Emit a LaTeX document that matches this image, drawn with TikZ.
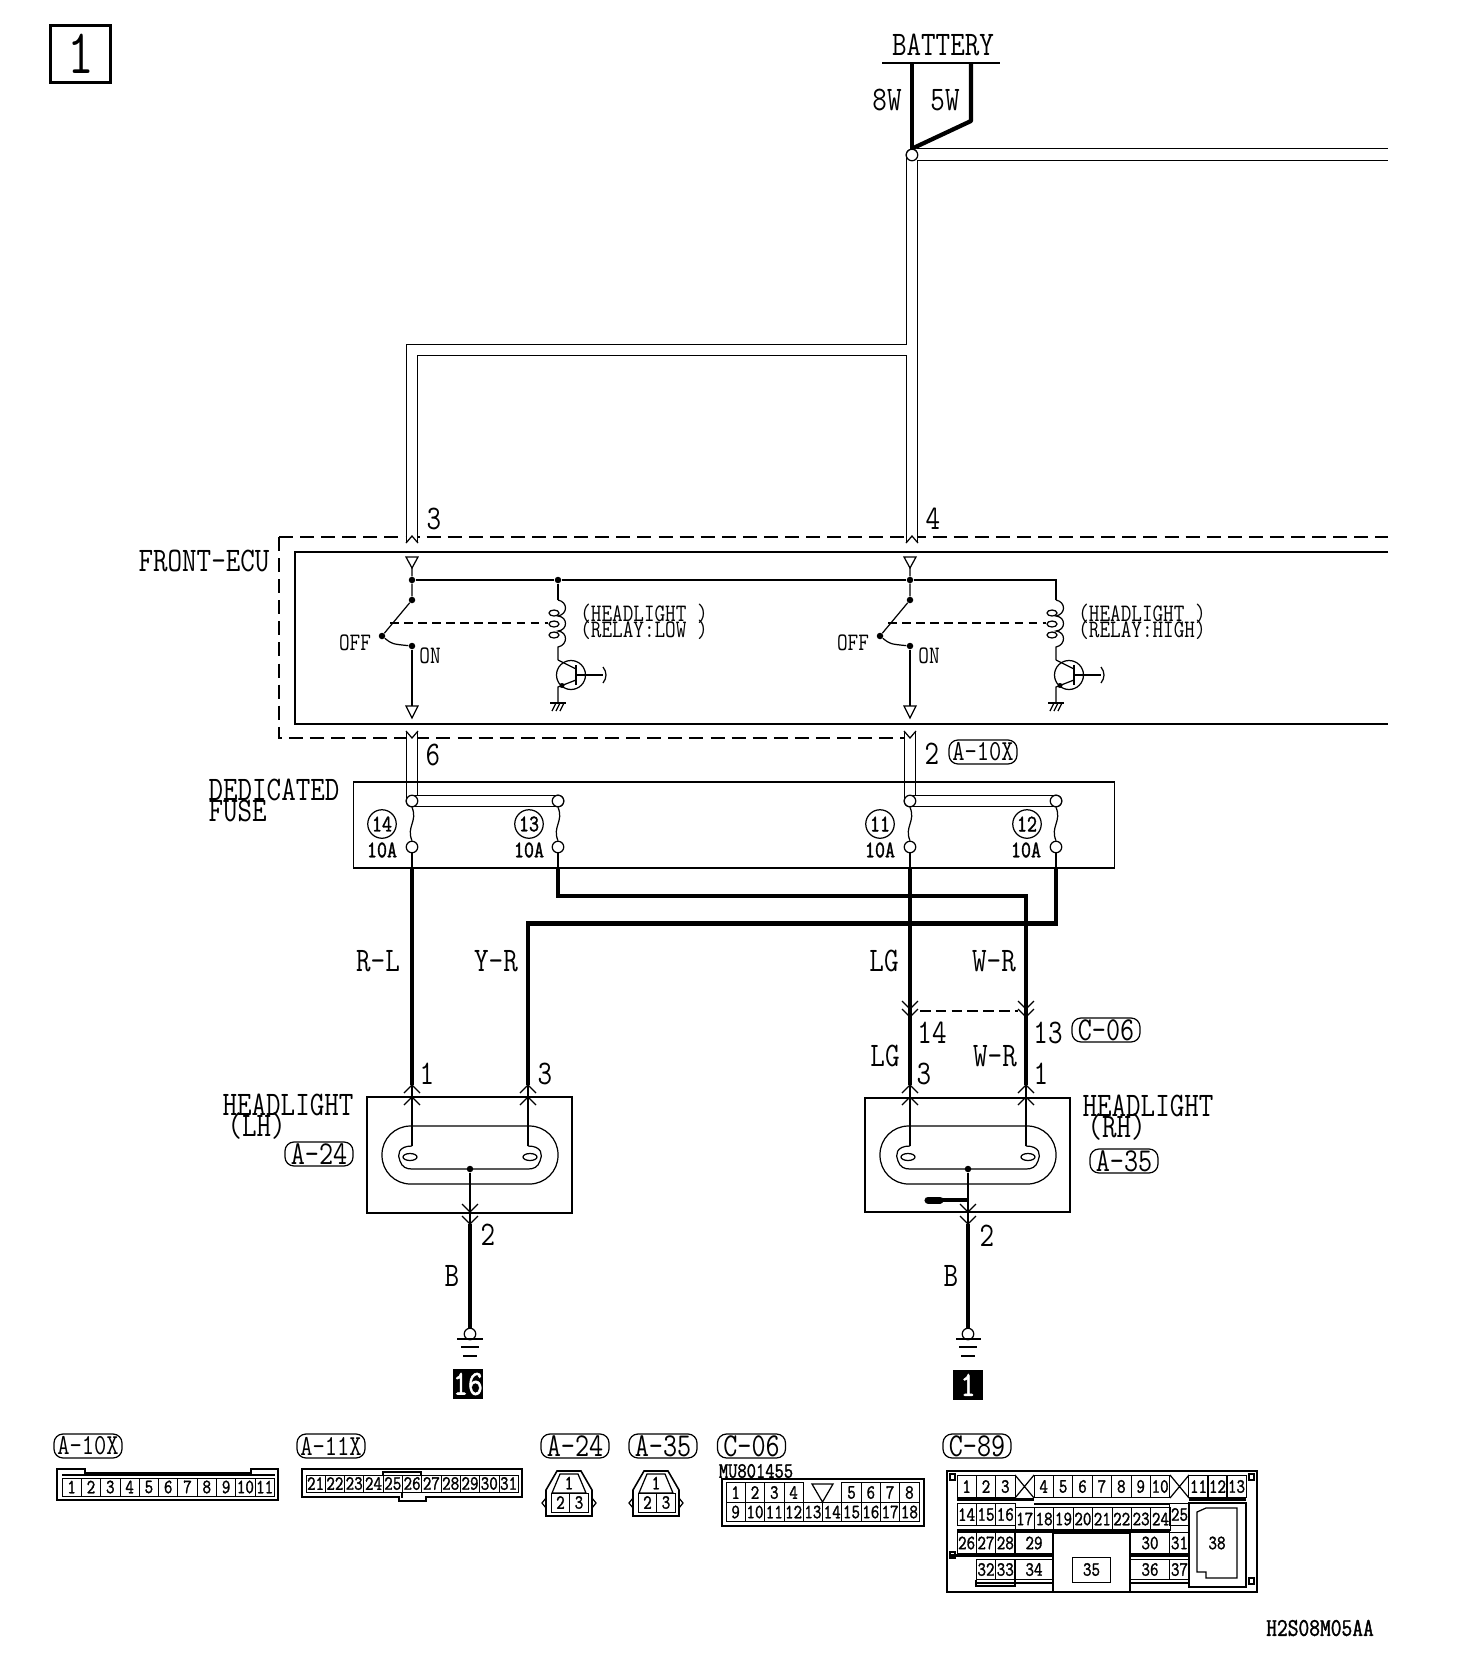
\documentclass[tikz,border=0pt]{standalone}
\usepackage{fontspec}
\setmonofont[FakeStretch=0.82, BoldFont={Latin Modern Mono}, BoldFeatures={FakeStretch=0.82, FakeBold=1.4}]{Latin Modern Mono}

\tikzset{
	biglabel/.style={inner sep=0, font=\fontsize{19.6}{19}\selectfont\ttfamily},
	midlabel/.style={inner sep=0, font=\fontsize{14.3}{14}\selectfont\ttfamily},
	tinylabel/.style={inner sep=0, font=\fontsize{12.5}{13}\selectfont\ttfamily\bfseries},
	pill/.style={draw, line width=.7pt, rounded corners=.18cm, inner sep=0, minimum width=1.36cm, minimum height=.48cm, font=\fontsize{19}{19}\selectfont\ttfamily},
	pillx/.style={pill, font=\fontsize{16.5}{17}\selectfont\ttfamily},
	thinwire/.style={line width=.7pt},
	thickwire/.style={line width=2.4pt},
	pairwire/.style={line width=.7pt, double, double distance=.21cm},
	solidbox/.style={draw, line width=.9pt, inner sep=0},
	blackbox/.style={fill=black, text=white, inner sep=0, minimum size=.61cm, font=\fontsize{20}{20}\selectfont\ttfamily\bfseries},
	spot/.style={circle, fill=black, inner sep=0, minimum size=.13cm},
	ringnode/.style={circle, draw, line width=.7pt, fill=white, inner sep=0, minimum size=.23cm},
	fusenum/.style={circle, draw, line width=.7pt, inner sep=0, minimum size=.57cm, font=\fontsize{13.5}{14}\selectfont\ttfamily\bfseries},
	fuseamp/.style={inner sep=0, font=\fontsize{13.5}{14}\selectfont\ttfamily\bfseries},
	pinbox/.style={draw, line width=.5pt, inner sep=0, font=\fontsize{11.5}{12}\selectfont\ttfamily\bfseries},
	pinA/.style={pinbox, minimum width=.386cm, minimum height=.36cm},
	pinB/.style={pinbox, minimum width=.386cm, minimum height=.34cm},
	pinC/.style={pinbox, minimum width=.386cm, minimum height=.39cm},
	pinD/.style={pinbox, minimum width=.386cm, minimum height=.45cm},
	pinE/.style={pinbox, minimum width=.386cm, minimum height=.41cm},
	pinF/.style={pinbox, minimum width=.77cm, minimum height=.41cm},
	chevup/.pic={\draw[thinwire] (-8,8) -- (0,0) -- (8,8);},
	chevdown/.pic={\draw[thinwire] (-8,-8) -- (0,0) -- (8,-8);},
	notchtop/.pic={\draw[thinwire] (-6,6) -- (0,-1) -- (6,6);},
	notchbot/.pic={\draw[thinwire] (-6,0) -- (0,7) -- (6,0);},
	lamp/.pic={
		\draw[thinwire, rounded corners=.57cm] (-88,-29) rectangle (88,29);
		\draw[thinwire] (-58,-9) .. controls (-72,-9) and (-73,0) .. (-70,6) .. controls (-68,12) and (-64,14) .. (-58,14) -- (58,14) .. controls (64,14) and (68,12) .. (70,6) .. controls (73,0) and (72,-9) .. (58,-9);
		\draw[thinwire] (-60,2) ellipse [x radius=7, y radius=3.5];
		\draw[thinwire] (60,2) ellipse [x radius=7, y radius=3.5];
		\coordinate (a) at (-58,-9);
		\coordinate (b) at (58,-9);
		\node[spot] (c) at (0,14) {};
	},
	relay/.pic={
		\node[spot] (top) at (0,0) {};
		\node[spot] (piv) at (0,20) {};
		\node[spot] (off) at (-30,56) {};
		\node[spot] (on) at (0,66) {};
		\coordinate (coil) at (146,20);
		\coordinate (q) at (146,80);
		\draw[thinwire] (-6,-23) -- (6,-23) -- (0,-12) -- cycle;
		\draw[thinwire] (0,-12) -- (top) -- (piv) -- (off);
		\draw[thinwire] (off) .. controls (-20,64) .. (on);
		\draw[thinwire] (on) -- (0,126);
		\draw[thinwire] (-6,126) -- (6,126) -- (0,138) -- cycle;
		\draw[thinwire, dash pattern=on 5pt off 3pt] (-22,43) -- (136,43);
		\draw[thinwire] (coil) .. controls (156,22) and (156,34) .. (146,36) .. controls (156,37) and (156,50) .. (146,51) .. controls (156,52) and (156,65) .. (146,67) -- (q);
		\draw[thinwire] (142,33) ellipse [x radius=5, y radius=3];
		\draw[thinwire] (142,44) ellipse [x radius=5, y radius=3];
		\draw[thinwire] (142,55) ellipse [x radius=5, y radius=3];
		\draw[thinwire] (159,95) circle [radius=14.5];
		\draw[thinwire] (q) -- (164,89);
		\draw[thinwire] (164,85) -- (164,105);
		\draw[thinwire] (164,100) -- (146,107) -- (146,123);
		\fill (150,105.5) circle [radius=2.5];
		\draw[line width=1.2pt] (164,95) -- (191,95);
		\draw[thinwire] (191,87) .. controls (195,92) and (195,98) .. (191,103);
		\draw[thinwire] (138,123) -- (154,123);
		\draw[thinwire] (140,131) -- (144,123) (144,131) -- (148,123) (148,131) -- (152,123);
	}
}

\begin{document}
\begin{tikzpicture}[x=0.02cm, y=-0.02cm]
	\useasboundingbox (0,0) rectangle (1472,1674);
	\node[draw, line width=2.2pt, inner sep=0, minimum width=1.2cm, minimum height=1.14cm, font=\fontsize{36}{36}\selectfont\ttfamily] (TAG) at (80.5,54) {1};

	% battery
	\node[biglabel] (BAT) at (943,45) {BATTERY};
	\coordinate (BATa) at (882,63);
	\coordinate (BATb) at (1000,63);
	\coordinate (W8a) at (912,63);
	\coordinate (W5a) at (971,63);
	\coordinate (W5b) at (971,121);
	\coordinate (ENDr) at (1388,154.5);
	\coordinate (TEEa) at (917,154.5);
	\coordinate (TEEb) at (907,350);
	\coordinate (TEEc) at (412,350);
	\coordinate (P3) at (412,543);
	\coordinate (P4) at (912,543);
	\draw[line width=1.2pt] (BATa) -- (BATb);
	\node[biglabel] (L8W) at (887,100) {8W};
	\node[biglabel] (L5W) at (945,100) {5W};
	\node[ringnode] (SP) at (912,155) {};
	\draw[pairwire] (SP.center) -- (P4);
	\draw[pairwire] (TEEa) -- (ENDr);
	\draw[pairwire] (TEEb) -- (TEEc) -- (P3);
	\draw[thickwire] (W8a) -- (SP.north);
	\draw[thickwire, line join=round] (W5a) -- (W5b) -- (SP.north);
	\node[ringnode] (SPb) at (912,155) {};

	% front-ecu
	\node[biglabel] (ECU) at (204,561) {FRONT-ECU};
	\coordinate (DASHa) at (1388,537);
	\coordinate (DASHb) at (279,537);
	\coordinate (DASHc) at (279,738);
	\coordinate (DASHd) at (906,738);
	\coordinate (BOXa) at (1388,552);
	\coordinate (BOXb) at (295,552);
	\coordinate (BOXc) at (295,724);
	\coordinate (BOXd) at (1388,724);
	\draw[line width=.8pt, dash pattern=on 8pt off 4pt] (DASHb) -- (DASHc) -- (DASHd);
	\draw[line width=.8pt, dash pattern=on 8pt off 4pt] (DASHb) -- (DASHa);
	\draw[line width=.9pt] (BOXa) -- (BOXb) -- (BOXc) -- (BOXd);
	\draw[pairwire] (P3) -- (412,530);
	\draw[pairwire] (P4) -- (912,530);
	\pic at (412,537) {notchtop};
	\pic at (912,537) {notchtop};
	\node[biglabel] (N3) at (434,519) {3};
	\node[biglabel] (N4) at (933,519) {4};
	\pic (RL) at (412,580) {relay};
	\pic (RH) at (910,580) {relay};
	\node[spot] (JL) at (558,580) {};
	\draw[thinwire] (RLtop) -- (JL) -- (RHtop) -- (1056,580) -- (RHcoil);
	\draw[thinwire] (JL) -- (RLcoil);
	\node[midlabel] (OFFa) at (355,643) {OFF};
	\node[midlabel] (ONa) at (430,656) {ON};
	\node[midlabel] (OFFb) at (853,643) {OFF};
	\node[midlabel] (ONb) at (929,656) {ON};
	\node[midlabel, align=left] (RLT) at (644,622) {(HEADLIGHT )\\[-4.9pt](RELAY:LOW )};
	\node[midlabel, align=left] (RHT) at (1142,622) {(HEADLIGHT )\\[-4.9pt](RELAY:HIGH)};

	% dedicated fuse
	\node[ringnode] (S14) at (412,801) {};
	\node[ringnode] (S13) at (558,801) {};
	\node[ringnode] (S11) at (910,801) {};
	\node[ringnode] (S12) at (1056,801) {};
	\coordinate (P6) at (412,731);
	\coordinate (P2) at (910,731);
	\draw[pairwire] (P6) -- (S14.center);
	\draw[pairwire] (P2) -- (S11.center);
	\draw[pairwire] (S14.center) -- (S13.center);
	\draw[pairwire] (S11.center) -- (S12.center);
	\pic at (412,731) {notchbot};
	\pic at (910,731) {notchbot};
	\node[ringnode] at (S14) {};
	\node[ringnode] at (S13) {};
	\node[ringnode] at (S11) {};
	\node[ringnode] at (S12) {};
	\node[solidbox, minimum width=15.23cm, minimum height=1.72cm] (FUSEBOX) at (734,825) {};
	\node[biglabel, align=left] (DED) at (274,800) {DEDICATED\\[-7.1pt]FUSE};
	\node[biglabel] (N6) at (433,755) {6};
	\node[biglabel] (N2) at (932,754) {2};
	\node[pillx] (TA10) at (983,752) {A-10X};
	\node[fusenum] (F14) at (382,824) {14};
	\node[fusenum] (F13) at (529,824) {13};
	\node[fusenum] (F11) at (880,824) {11};
	\node[fusenum] (F12) at (1027,824) {12};
	\node[fuseamp] (A14) at (382,850) {10A};
	\node[fuseamp] (A13) at (529,850) {10A};
	\node[fuseamp] (A11) at (880,850) {10A};
	\node[fuseamp] (A12) at (1026,850) {10A};
	\node[ringnode] (T14) at (412,847) {};
	\node[ringnode] (T13) at (558,847) {};
	\node[ringnode] (T11) at (910,847) {};
	\node[ringnode] (T12) at (1056,847) {};
	\draw[thinwire] (S14.south) .. controls +(6,14) and +(-6,-14) .. (T14.north);
	\draw[thinwire] (S13.south) .. controls +(6,14) and +(-6,-14) .. (T13.north);
	\draw[thinwire] (S11.south) .. controls +(6,14) and +(-6,-14) .. (T11.north);
	\draw[thinwire] (S12.south) .. controls +(6,14) and +(-6,-14) .. (T12.north);
	\draw[thinwire] (T14) -- (412,868);
	\draw[thinwire] (T13) -- (558,868);
	\draw[thinwire] (T11) -- (910,868);
	\draw[thinwire] (T12) -- (1056,868);

	% wires to the lamps
	\coordinate (J1) at (412,1085);
	\coordinate (J3) at (528,1085);
	\coordinate (J5) at (910,1085);
	\coordinate (J6) at (1026,1085);
	\draw[thickwire] (412,868) -- (J1);
	\draw[thickwire, line join=miter] (558,868) -- (558,896) -- (1026,896) -- (J6);
	\draw[thickwire, line join=miter] (1056,868) -- (1056,923.5) -- (528,923.5) -- (J3);
	\draw[thickwire] (910,868) -- (J5);
	\node[biglabel] (RL1) at (378,961) {R-L};
	\node[biglabel] (YR1) at (496,961) {Y-R};
	\node[biglabel] (LG1) at (884,961) {LG};
	\node[biglabel] (WR1) at (994,961) {W-R};
	\node[biglabel] (LG2) at (885,1056) {LG};
	\node[biglabel] (WR2) at (995,1056) {W-R};
	\pic at (910,1009) {chevdown};
	\pic at (910,1017) {chevdown};
	\pic at (1026,1009) {chevdown};
	\pic at (1026,1017) {chevdown};
	\draw[thinwire, dash pattern=on 6pt off 3pt] (920,1011) -- (1018,1011);
	\node[biglabel] (N14) at (932,1033) {14};
	\node[biglabel] (N13) at (1048,1033) {13};
	\node[pill] (TC06) at (1106,1030) {C-06};
	\node[biglabel] (N3b) at (924,1074) {3};
	\node[biglabel] (N1b) at (1041,1074) {1};
	\node[biglabel] (N1a) at (427,1074) {1};
	\node[biglabel] (N3a) at (545,1074) {3};

	% headlight lh
	\node[solidbox, minimum width=4.1cm, minimum height=2.32cm] (HLbox) at (469.5,1155) {};
	\pic (LL) at (470,1155) {lamp};
	\draw[thinwire] (J1) -- (LLa);
	\draw[thinwire] (J3) -- (LLb);
	\pic at (412,1085) {chevup};
	\pic at (412,1097) {chevup};
	\pic at (528,1085) {chevup};
	\pic at (528,1097) {chevup};
	\node[biglabel, align=left] (HLT) at (288,1117) {HEADLIGHT\\[-7.1pt]\hspace*{.1cm}(LH)};
	\node[pill] (TA24) at (319,1154) {A-24};
	\coordinate (GLa) at (470,1224);
	\node[ringnode] (GLb) at (470,1334) {};
	\draw[line width=1.2pt] (LLc) -- (GLa);
	\draw[thickwire] (GLa) -- (GLb);
	\pic at (470,1212) {chevdown};
	\pic at (470,1224) {chevdown};
	\node[biglabel] (N2a) at (488,1235) {2};
	\node[biglabel] (BL) at (452,1276) {B};
	\draw[thinwire] (457,1339) -- (483,1339) (461,1347) -- (479,1347) (463,1356) -- (477,1356);
	\node[blackbox] (G16) at (468,1384) {16};

	% headlight rh
	\node[solidbox, minimum width=4.1cm, minimum height=2.28cm] (HRbox) at (967.5,1155) {};
	\pic (LR) at (968,1155) {lamp};
	\draw[thinwire] (J5) -- (LRa);
	\draw[thinwire] (J6) -- (LRb);
	\pic at (910,1085) {chevup};
	\pic at (910,1097) {chevup};
	\pic at (1026,1085) {chevup};
	\pic at (1026,1097) {chevup};
	\node[biglabel, align=left] (HRT) at (1148,1118) {HEADLIGHT\\[-7.1pt]\hspace*{.1cm}(RH)};
	\node[pill] (TA35) at (1124,1161) {A-35};
	\coordinate (GRa) at (968,1224);
	\coordinate (BLOB) at (926,1200);
	\node[ringnode] (GRb) at (968,1334) {};
	\draw[thinwire] (LRc) -- (GRa);
	\draw[thickwire] (GRa) -- (GRb);
	\draw[line width=2pt] (BLOB) -- (968,1200);
	\draw[line width=4pt, line cap=round] (928,1200) -- (940,1200);
	\pic at (968,1212) {chevdown};
	\pic at (968,1224) {chevdown};
	\node[biglabel] (N2c) at (987,1236) {2};
	\node[biglabel] (BR) at (951,1276) {B};
	\draw[thinwire] (956,1339) -- (981,1339) (959,1347) -- (977,1347) (961,1356) -- (975,1356);
	\node[blackbox] (G1) at (968,1385) {1};

	% connector a-10x
	\node[pillx] (KA10) at (88,1446) {A-10X};
	\draw[line width=.9pt] (57,1469) -- (85,1469) -- (85,1473) -- (251,1473) -- (251,1469) -- (278,1469) -- (278,1500) -- (57,1500) -- cycle;
	\draw[thinwire] (62,1475) -- (275,1475);
	\node[pinA] (a1) at (71.6,1487) {1};
	\node[pinA] (a2) at (91,1487) {2};
	\node[pinA] (a3) at (110.3,1487) {3};
	\node[pinA] (a4) at (129.6,1487) {4};
	\node[pinA] (a5) at (148.9,1487) {5};
	\node[pinA] (a6) at (168.2,1487) {6};
	\node[pinA] (a7) at (187.5,1487) {7};
	\node[pinA] (a8) at (206.8,1487) {8};
	\node[pinA] (a9) at (226.1,1487) {9};
	\node[pinA] (a10) at (245.4,1487) {10};
	\node[pinA] (a11) at (264.7,1487) {11};

	% connector a-11x
	\node[pillx] (KA11) at (331,1446) {A-11X};
	\draw[line width=.9pt] (302,1469) -- (522,1469) -- (522,1497) -- (426,1497) -- (426,1501) -- (399,1501) -- (399,1497) -- (302,1497) -- cycle;
	\node[pinB] (b21) at (315.6,1483.5) {21};
	\node[pinB] (b22) at (334.9,1483.5) {22};
	\node[pinB] (b23) at (354.2,1483.5) {23};
	\node[pinB] (b24) at (373.5,1483.5) {24};
	\node[pinB] (b25) at (392.8,1483.5) {25};
	\node[pinB] (b26) at (412.1,1483.5) {26};
	\node[pinB] (b27) at (431.4,1483.5) {27};
	\node[pinB] (b28) at (450.7,1483.5) {28};
	\node[pinB] (b29) at (470,1483.5) {29};
	\node[pinB] (b30) at (489.3,1483.5) {30};
	\node[pinB] (b31) at (508.6,1483.5) {31};
	\draw[thinwire] (383,1475) -- (383,1472) -- (421,1472) -- (421,1475);
	\draw[thinwire] (402,1492) -- (402,1498);

	% connector a-24
	\node[pill] (KA24) at (575,1446) {A-24};
	\draw[line width=.9pt] (557,1471) -- (581,1471) -- (592,1490) -- (592,1516) -- (546,1516) -- (546,1490) -- cycle;
	\draw[thinwire] (560,1474) -- (578,1474) -- (586,1493) -- (552,1493) -- cycle;
	\node[inner sep=0, font=\fontsize{11.5}{12}\selectfont\ttfamily\bfseries] (c1) at (569,1483) {1};
	\node[pinbox, minimum width=.37cm, minimum height=.38cm] (c2) at (560.5,1502.5) {2};
	\node[pinbox, minimum width=.37cm, minimum height=.38cm] (c3) at (579,1502.5) {3};
	\draw[thinwire] (546,1498) -- (542,1503) -- (546,1508) (592,1498) -- (596,1503) -- (592,1508);

	% connector a-35
	\node[pill] (KA35) at (663,1446) {A-35};
	\draw[line width=.9pt] (644,1471) -- (668,1471) -- (679,1490) -- (679,1516) -- (633,1516) -- (633,1490) -- cycle;
	\draw[thinwire] (647,1474) -- (665,1474) -- (673,1493) -- (639,1493) -- cycle;
	\node[inner sep=0, font=\fontsize{11.5}{12}\selectfont\ttfamily\bfseries] (d1) at (656,1483) {1};
	\node[pinbox, minimum width=.37cm, minimum height=.38cm] (d2) at (647.5,1502.5) {2};
	\node[pinbox, minimum width=.37cm, minimum height=.38cm] (d3) at (666,1502.5) {3};
	\draw[thinwire] (633,1498) -- (629,1503) -- (633,1508) (679,1498) -- (683,1503) -- (679,1508);

	% connector c-06
	\node[pill] (KC06) at (751.5,1446) {C-06};
	\node[tinylabel] (MU) at (756,1471) {MU801455};
	\node[draw, line width=1.2pt, inner sep=0, minimum width=4.04cm, minimum height=.94cm] (e0) at (823,1502.5) {};
	\node[pinC] (e1) at (735.6,1492.5) {1};
	\node[pinC] (e2) at (755,1492.5) {2};
	\node[pinC] (e3) at (774.3,1492.5) {3};
	\node[pinC] (e4) at (793.6,1492.5) {4};
	\node[pinC] (e5) at (851.5,1492.5) {5};
	\node[pinC] (e6) at (870.8,1492.5) {6};
	\node[pinC] (e7) at (890.1,1492.5) {7};
	\node[pinC] (e8) at (909.4,1492.5) {8};
	\node[pinC] (e9) at (735.6,1512) {9};
	\node[pinC] (e10) at (755,1512) {10};
	\node[pinC] (e11) at (774.3,1512) {11};
	\node[pinC] (e12) at (793.6,1512) {12};
	\node[pinC] (e13) at (812.9,1512) {13};
	\node[pinC] (e14) at (832.2,1512) {14};
	\node[pinC] (e15) at (851.5,1512) {15};
	\node[pinC] (e16) at (870.8,1512) {16};
	\node[pinC] (e17) at (890.1,1512) {17};
	\node[pinC] (e18) at (909.4,1512) {18};
	\draw[thinwire] (812,1484) -- (833,1484) -- (822.5,1502) -- cycle;

	% connector c-89
	\node[pill] (KC89) at (977,1446) {C-89};
	\node[draw, line width=1.2pt, inner sep=0, minimum width=6.2cm, minimum height=2.42cm] (f0) at (1102,1531.5) {};
	\node[pinD] (f1) at (966.6,1486.5) {1};
	\node[pinD] (f2) at (986,1486.5) {2};
	\node[pinD] (f3) at (1005.3,1486.5) {3};
	\node[pinD] (f4) at (1043.7,1486.5) {4};
	\node[pinD] (f5) at (1063.1,1486.5) {5};
	\node[pinD] (f6) at (1082.5,1486.5) {6};
	\node[pinD] (f7) at (1101.9,1486.5) {7};
	\node[pinD] (f8) at (1121.3,1486.5) {8};
	\node[pinD] (f9) at (1140.7,1486.5) {9};
	\node[pinD] (f10) at (1160.1,1486.5) {10};
	\node[pinD] (f11) at (1198.5,1486.5) {11};
	\node[pinD] (f12) at (1217.5,1486.5) {12};
	\node[pinD] (f13) at (1236.5,1486.5) {13};
	\node[pinD] (f14) at (966.6,1514.5) {14};
	\node[pinD] (f15) at (986,1514.5) {15};
	\node[pinD] (f16) at (1005.3,1514.5) {16};
	\node[pinD] (f17) at (1024.7,1519) {17};
	\node[pinD] (f18) at (1044.1,1519) {18};
	\node[pinD] (f19) at (1063.5,1519) {19};
	\node[pinD] (f20) at (1082.9,1519) {20};
	\node[pinD] (f21) at (1102.3,1519) {21};
	\node[pinD] (f22) at (1121.7,1519) {22};
	\node[pinD] (f23) at (1141.1,1519) {23};
	\node[pinD] (f24) at (1160.5,1519) {24};
	\node[pinD] (f25) at (1179.5,1514.5) {25};
	\node[pinE] (f26) at (966.6,1543) {26};
	\node[pinE] (f27) at (986,1543) {27};
	\node[pinE] (f28) at (1005.3,1543) {28};
	\node[pinF] (f29) at (1034,1543) {29};
	\node[pinF] (f30) at (1150,1543) {30};
	\node[pinE] (f31) at (1179.5,1543) {31};
	\node[pinE] (f32) at (986,1569.5) {32};
	\node[pinE] (f33) at (1005.3,1569.5) {33};
	\node[pinF] (f34) at (1034,1569.5) {34};
	\node[pinF, minimum height=.5cm] (f35) at (1091.5,1569.5) {35};
	\node[pinF] (f36) at (1150,1569.5) {36};
	\node[pinE] (f37) at (1179.5,1569.5) {37};
	\draw[thinwire] (1015,1475) -- (1034,1498) (1034,1475) -- (1015,1498);
	\draw[thinwire] (1170,1475) -- (1189,1498) (1189,1475) -- (1170,1498);
	\draw[thinwire] (1189,1503) -- (1246,1503) -- (1246,1587) -- (1189,1587) -- cycle;
	\draw[thinwire] (1197,1512) -- (1206,1508) -- (1237,1508) -- (1237,1578) -- (1206,1578) -- (1206,1572) -- (1197,1572) -- cycle;
	\node[inner sep=0, font=\fontsize{11.5}{12}\selectfont\ttfamily\bfseries] (f38) at (1217,1543) {38};
	\draw[thinwire] (976,1580) -- (976,1586) -- (1015,1586) -- (1015,1580);
	\draw[line width=1.2pt] (957,1499.5) -- (1034,1499.5) (1189,1499.5) -- (1246,1499.5) (1034,1504) -- (1170,1504) (957,1530.5) -- (1170,1530.5);
	\draw[line width=1.2pt] (950,1555.5) -- (1053,1555.5) (1130,1555.5) -- (1189,1555.5) (976,1583) -- (1053,1583) (1130,1583) -- (1189,1583);
	\draw[thinwire] (1053,1533) -- (1053,1591) (1130,1533) -- (1130,1591) (1053,1533) -- (1130,1533);
	\draw[thinwire] (950,1474) rectangle (955,1480) (1249,1474) rectangle (1254,1480) (1249,1578) rectangle (1254,1584) (950,1552) rectangle (955,1558);

	\node[inner sep=0, font=\fontsize{14.5}{15}\selectfont\ttfamily\bfseries] (CODE) at (1320,1628) {H2S08M05AA};
\end{tikzpicture}
\end{document}
